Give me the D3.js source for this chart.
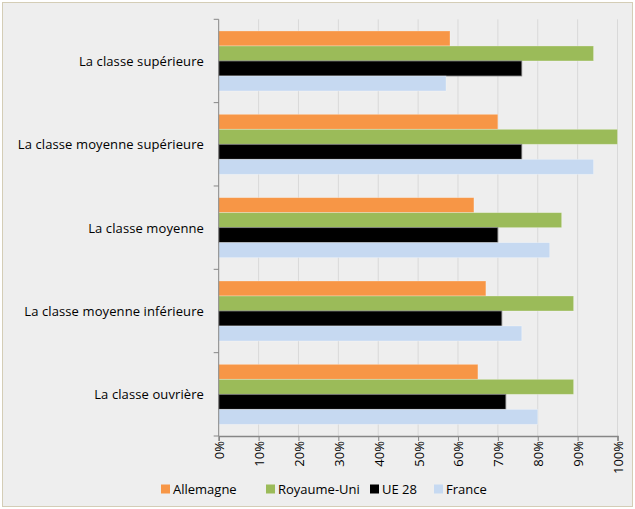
<!DOCTYPE html>
<html lang="fr">
<head>
  <meta charset="UTF-8">
  <title>Classes sociales</title>
  <script src="https://d3js.org/d3.v7.min.js"></script>
  <style>
    body { margin: 0; background: #fff; }
    svg { display: block; font-family: "Open Sans", sans-serif; }
  </style>
</head>
<body>
  <div id="chart"></div>
  <script>
    // données
    const categories = [
      "La classe supérieure",
      "La classe moyenne supérieure",
      "La classe moyenne",
      "La classe moyenne inférieure",
      "La classe ouvrière"
    ];
    const seriesNames = ["Allemagne", "Royaume-Uni", "UE 28", "France"];
    const allemagne = [58, 70, 64, 67, 65];
    const royaumeUni = [94, 100, 86, 89, 89];
    const ue28 = [76, 76, 70, 71, 72];
    const france = [57, 94, 83, 76, 80];
    const xTicks = [0, 10, 20, 30, 40, 50, 60, 70, 80, 90, 100];
    const colors = ["#F79646", "#9BBB59", "#000000", "#C6D9F1"];

    const width = 635, height = 509;
    const plotL = 218.7, plotR = 617.5, plotT = 19.3, plotB = 436;

    const svg = d3.select("#chart").append("svg")
      .attr("width", width).attr("height", height);

    svg.append("rect")
      .attr("x", 2.5).attr("y", 2.5)
      .attr("width", width - 5).attr("height", height - 5)
      .attr("fill", "#EEEEEE").attr("stroke", "#D4CDB6");

    const x = d3.scaleLinear().domain([0, 100]).range([plotL, plotR]);
    const y = d3.scaleBand().domain(categories).range([plotT, plotB]).paddingInner(0.28).paddingOuter(0.14);
    const ySub = d3.scaleBand().domain(seriesNames).range([0, y.bandwidth()]);

    // grille
    svg.append("g").selectAll("line")
      .data(xTicks.slice(1))
      .join("line")
      .attr("x1", d => x(d)).attr("x2", d => x(d))
      .attr("y1", plotT).attr("y2", plotB)
      .attr("stroke", "#D9D9D9").attr("stroke-width", 1);

    const rows = categories.map((c, i) => ({
      cat: c,
      vals: [allemagne[i], royaumeUni[i], ue28[i], france[i]]
    }));

    const groups = svg.append("g").selectAll("g")
      .data(rows)
      .join("g")
      .attr("transform", d => `translate(0,${y(d.cat)})`);

    groups.selectAll("rect")
      .data(d => d.vals.map((v, j) => ({ v, name: seriesNames[j], j })))
      .join("rect")
      .attr("x", x(0))
      .attr("y", d => ySub(d.name))
      .attr("width", d => x(d.v) - x(0))
      .attr("height", ySub.bandwidth())
      .attr("fill", d => colors[d.j])
      .attr("stroke", d => d.j === 2 ? "#7f7f7f" : "rgba(255,255,255,0.35)")
      .attr("stroke-width", 0.8);

    // axe y
    const yEdges = categories.map(c => y(c) - y.step() * y.paddingInner() / 2);
    yEdges[0] = plotT;
    yEdges.push(plotB);
    svg.append("line")
      .attr("x1", plotL).attr("x2", plotL).attr("y1", plotT).attr("y2", plotB)
      .attr("stroke", "#868686");
    svg.append("g").selectAll("line")
      .data(yEdges)
      .join("line")
      .attr("x1", plotL - 5).attr("x2", plotL)
      .attr("y1", d => d).attr("y2", d => d)
      .attr("stroke", "#868686");

    svg.append("g").selectAll("text")
      .data(categories)
      .join("text")
      .attr("x", 204)
      .attr("y", d => y(d) + y.bandwidth() / 2)
      .attr("text-anchor", "end")
      .attr("dominant-baseline", "central")
      .attr("font-size", 13)
      .attr("letter-spacing", 0.1)
      .attr("fill", "#000")
      .text(d => d);

    // axe x
    const xAxis = svg.append("g")
      .attr("transform", `translate(0,${plotB})`)
      .call(d3.axisBottom(x).tickValues(xTicks).tickFormat(d => d + "%").tickSizeOuter(0).tickSize(5));
    xAxis.select(".domain").attr("stroke", "#868686").attr("stroke-width", 1.5);
    xAxis.selectAll(".tick line").attr("stroke", "#868686");
    xAxis.selectAll(".tick text")
      .attr("font-family", "'Open Sans', sans-serif")
      .attr("font-size", 13)
      .attr("fill", "#000")
      .attr("transform", "rotate(-90)")
      .attr("text-anchor", "end")
      .attr("dominant-baseline", "central")
      .attr("x", -5).attr("y", 0).attr("dy", null);

    // légende
    const legendX = [161, 266, 370, 434];
    const legend = svg.append("g").selectAll("g")
      .data(seriesNames)
      .join("g")
      .attr("transform", (d, i) => `translate(${legendX[i]},489)`);
    legend.append("rect")
      .attr("x", 0).attr("y", -4.5).attr("width", 9).attr("height", 9)
      .attr("fill", (d, i) => colors[i]);
    legend.append("text")
      .attr("x", 12).attr("y", 0)
      .attr("dominant-baseline", "central")
      .attr("font-size", 13)
      .text(d => d);
  </script>
</body>
</html>
